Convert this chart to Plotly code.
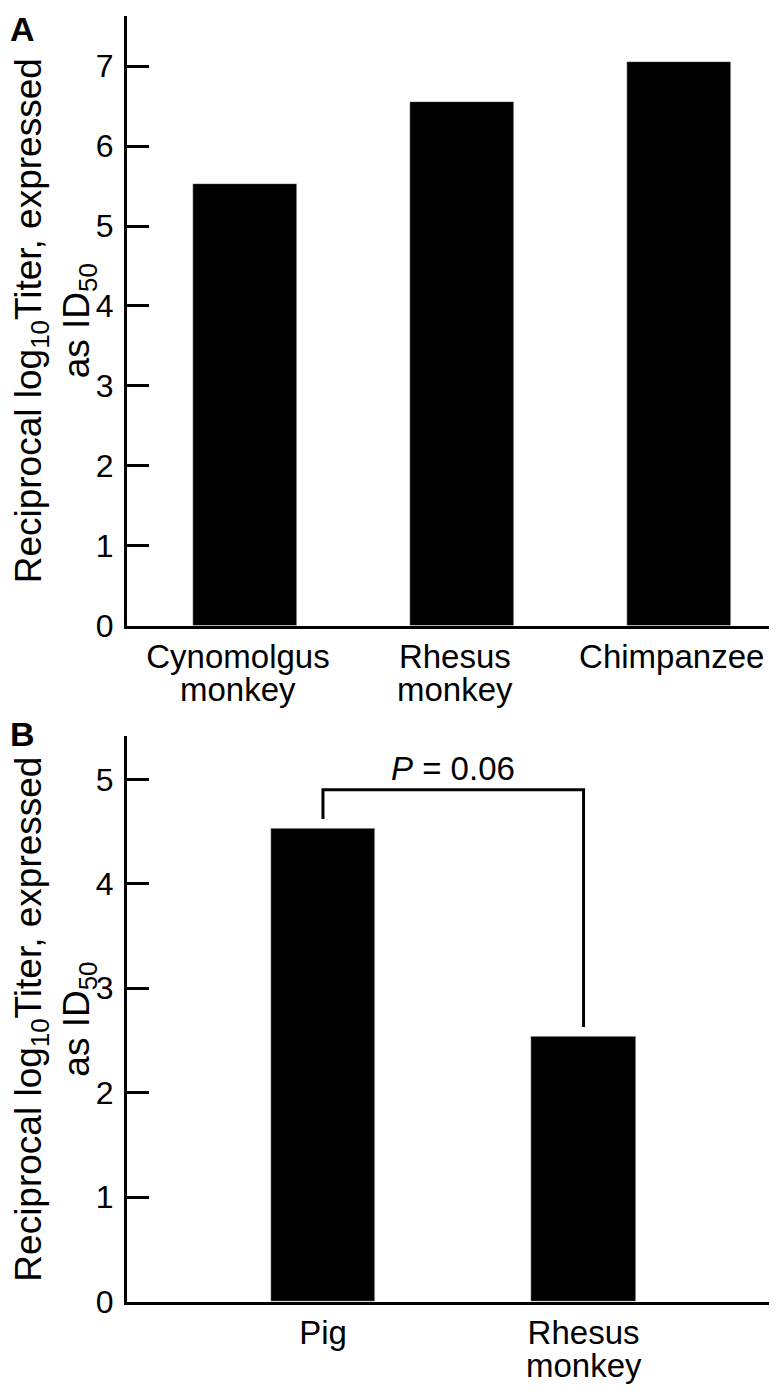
import plotly.graph_objects as go

# panel A
species_a = ["Cynomolgus monkey", "Rhesus monkey", "Chimpanzee"]
titer_a = [5.53, 6.55, 7.05]

# panel B
species_b = ["Pig", "Rhesus monkey"]
titer_b = [4.53, 2.54]
bracket_y = [4.62, 4.90, 4.90, 2.63]
p_text = "<i>P</i> = 0.06"

FONT = "Liberation Sans, Arial, sans-serif"
W, H = 777, 1392
TXT = 33


def first_line(name):
    return name.split(" ")[0]


def second_line(name):
    parts = name.split(" ")
    return " ".join(parts[1:])


fig = go.Figure()
fig.add_trace(go.Bar(x=species_a, y=titer_a, width=0.48, marker_color="black",
                     xaxis="x", yaxis="y", showlegend=False))
fig.add_trace(go.Bar(x=species_b, y=titer_b, width=0.40, marker_color="black",
                     xaxis="x2", yaxis="y2", showlegend=False))
fig.add_trace(go.Scatter(x=[species_b[0], species_b[0], species_b[1], species_b[1]],
                         y=bracket_y, mode="lines", line=dict(color="black", width=3),
                         xaxis="x2", yaxis="y2", showlegend=False, hoverinfo="skip"))

ytitle = "Reciprocal log<sub>10</sub>Titer, expressed<br>as ID<sub>50</sub>"
x_left = 119 / W

common_y = dict(showline=True, linecolor="black", linewidth=3, ticks="inside",
                ticklen=22, tickwidth=3, tickcolor="black", showgrid=False,
                zeroline=False, dtick=1, tickfont=dict(size=32, color="black"),
                ticklabelstandoff=4,
                title=dict(text=ytitle, font=dict(size=37, color="black"), standoff=5))
common_x = dict(showline=True, linecolor="black", linewidth=3, ticks="",
                showgrid=False, zeroline=False, tickfont=dict(size=TXT, color="black"))

# second lines of the category labels sit tighter than plotly's <br> spacing
annots = []
for name in species_a:
    if second_line(name):
        annots.append(dict(text=second_line(name), xref="x", yref="y domain", x=name, y=0,
                           xanchor="center", yanchor="top", yshift=-43, xshift=-7,
                           showarrow=False, font=dict(size=TXT)))
for name in species_b:
    if second_line(name):
        annots.append(dict(text=second_line(name), xref="x2", yref="y2 domain", x=name, y=0,
                           xanchor="center", yanchor="top", yshift=-43,
                           showarrow=False, font=dict(size=TXT)))

annots += [
    dict(text="<b>A</b>", xref="paper", yref="paper", x=0, y=1,
         xanchor="left", yanchor="top", showarrow=False, font=dict(size=34)),
    dict(text="<b>B</b>", xref="paper", yref="paper", x=0, y=1 - 714 / H,
         xanchor="left", yanchor="top", showarrow=False, font=dict(size=34)),
    dict(text=p_text, xref="x2", yref="y2", x=0.5, y=bracket_y[1] + 0.01,
         xanchor="center", yanchor="bottom", showarrow=False, font=dict(size=TXT)),
]

fig.update_layout(
    width=W, height=H,
    margin=dict(l=0, r=0, t=0, b=0),
    paper_bgcolor="white", plot_bgcolor="white",
    font=dict(family=FONT, color="black"),
    xaxis=dict(domain=[x_left, 1], range=[-0.544, 2.49], anchor="y",
               tickvals=species_a, ticktext=[first_line(s) for s in species_a],
               ticklabelshift=-7, **common_x),
    yaxis=dict(domain=[1 - 625.7 / H, 1 - 8 / H], range=[0, 7.63], anchor="x", **common_y),
    xaxis2=dict(domain=[x_left, 1], range=[-0.752, 1.773], anchor="y2",
                tickvals=species_b, ticktext=[first_line(s) for s in species_b],
                **common_x),
    yaxis2=dict(domain=[1 - 1310.7 / H, 1 - 738 / H], range=[0, 5.41], anchor="x2", **common_y),
    annotations=annots,
    bargap=0,
)

fig.write_html("out.html")
